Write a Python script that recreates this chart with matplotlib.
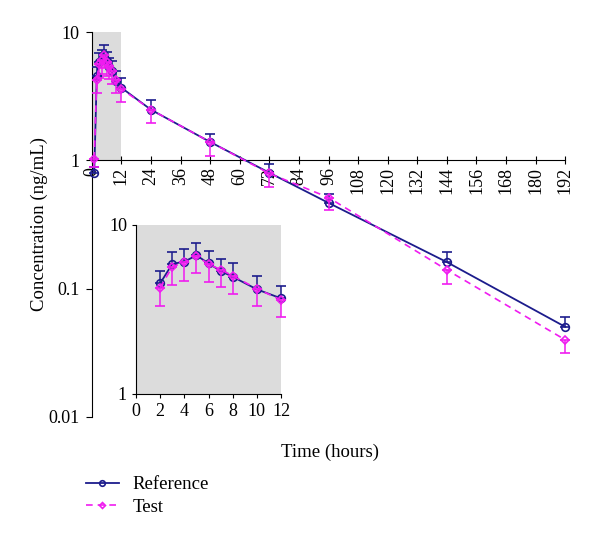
import matplotlib
matplotlib.use("Agg")
import matplotlib.pyplot as plt
from matplotlib.lines import Line2D
import numpy as np

plt.rcParams['font.family'] = ['Liberation Serif', 'DejaVu Serif']

# sampling times (hours) and mean concentrations (ng/mL)
time = [1, 2, 3, 4, 5, 6, 7, 8, 10, 12, 24, 48, 72, 96, 144, 192]
ref = [0.80, 4.52, 5.88, 6.07, 6.61, 5.93, 5.34, 4.94, 4.16, 3.68, 2.48, 1.39, 0.80, 0.466, 0.161, 0.0504]
ref_sd = [0.08, 0.85, 1.04, 1.14, 1.25, 1.05, 0.95, 0.99, 0.83, 0.67, 0.45, 0.22, 0.14, 0.08, 0.031, 0.010]
test = [1.03, 4.26, 5.66, 6.01, 6.58, 5.85, 5.45, 5.00, 4.20, 3.60, 2.48, 1.39, 0.79, 0.513, 0.140, 0.0399]
test_sd = [0.15, 0.93, 1.24, 1.33, 1.36, 1.27, 1.14, 1.10, 0.87, 0.76, 0.51, 0.30, 0.17, 0.10, 0.031, 0.0084]

main_xticks = list(range(0, 193, 12))
inset_xticks = list(range(0, 13, 2))

ref_color = '#1c1c8c'
test_color = '#f01cf0'
test_dash = (0, (4, 3))

time = np.array(time)
ref = np.array(ref); ref_sd = np.array(ref_sd)
test = np.array(test); test_sd = np.array(test_sd)


def draw(ax, mask, ms):
    t = time[mask]
    ax.errorbar(t, ref[mask], yerr=[np.zeros(mask.sum()), ref_sd[mask]], color=ref_color,
                lw=1.3, marker='o', ms=ms, mfc='none', mew=1.2, capsize=3.5, elinewidth=1.1,
                capthick=1.1, clip_on=False, zorder=3)
    ax.errorbar(t, test[mask], yerr=[test_sd[mask], np.zeros(mask.sum())], color=test_color,
                lw=1.2, ls=test_dash, marker='D', ms=ms - 1.5, mfc='none', mew=1.2, capsize=3.5,
                elinewidth=1.1, capthick=1.1, clip_on=False, zorder=4)


fig = plt.figure(figsize=(6, 5.38), dpi=100)
ax = fig.add_axes([0.153, 0.225, 0.789, 0.7155])
ax.set_yscale('log')
ax.set_ylim(0.01, 10)
ax.set_xlim(0, 192)
ax.axvspan(0, 12, ymin=2/3, ymax=1, color='#dcdcdc', zorder=0, lw=0)
draw(ax, np.ones(len(time), bool), 5.5)

for s in ['top', 'right']:
    ax.spines[s].set_visible(False)
ax.spines['bottom'].set_position(('data', 1))
ax.set_xticks(main_xticks)
ax.set_xticklabels([str(v) for v in main_xticks], rotation=90, fontsize=13)
ax.set_yticks([0.01, 0.1, 1, 10])
ax.set_yticklabels(['0.01', '0.1', '1', '10'], fontsize=13)
ax.minorticks_off()
ax.tick_params(axis='x', direction='inout', length=6, pad=2)
ax.tick_params(axis='y', direction='out', length=4, pad=5)
ax.set_ylabel('Concentration (ng/mL)', fontsize=13.5, labelpad=0)
fig.text(0.55, 0.16, 'Time (hours)', fontsize=13.5, ha='center', va='center')

# zoomed inset of the first 12 hours
ins = fig.add_axes([0.2267, 0.2677, 0.2417, 0.3141])
ins.set_facecolor('#dcdcdc')
ins.set_yscale('log')
ins.set_ylim(1, 10)
ins.set_xlim(0, 12)
draw(ins, (time >= 2) & (time <= 12), 5.5)
for s in ['top', 'right']:
    ins.spines[s].set_visible(False)
ins.set_xticks(inset_xticks)
ins.set_xticklabels([str(v) for v in inset_xticks], fontsize=13)
ins.set_yticks([1, 10])
ins.set_yticklabels(['1', '10'], fontsize=13)
ins.minorticks_off()
ins.tick_params(direction='out', length=3)

handles = [Line2D([], [], color=ref_color, lw=1.3, marker='o', ms=4, mfc='none', mew=1.2),
           Line2D([], [], color=test_color, lw=1.2, ls=test_dash, marker='D', ms=3, mfc='none', mew=1.2)]
fig.legend(handles, ['Reference', 'Test'], loc='upper left', bbox_to_anchor=(0.143, 0.115),
           frameon=False, fontsize=13.5, handlelength=1.75, handletextpad=0.75, labelspacing=0.3,
           borderpad=0, borderaxespad=0)

fig.savefig('out.png', dpi=100)
